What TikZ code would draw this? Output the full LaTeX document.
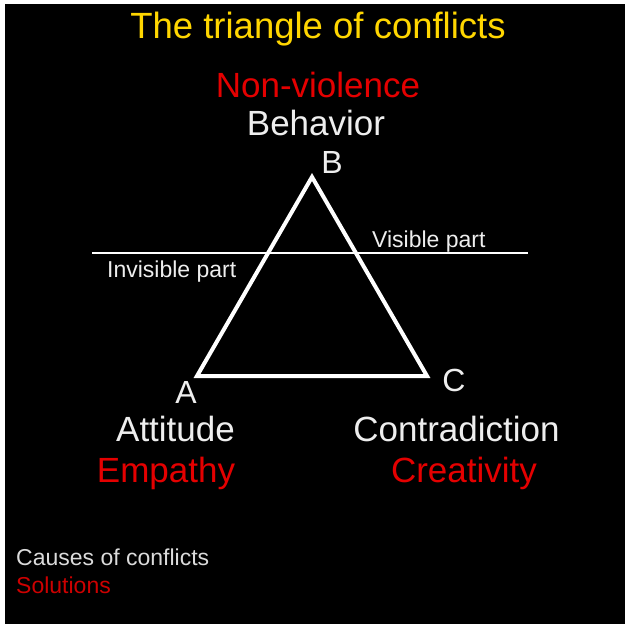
\documentclass[tikz,border=0pt]{standalone}
\usepackage{fontspec}
\setmainfont{Liberation Sans}
\usepackage{tikz}
\definecolor{titleyellow}{RGB}{255,214,0}
\definecolor{solred}{RGB}{228,0,0}
\definecolor{labelwhite}{RGB}{238,238,238}
\tikzset{
	biglabel/.style={inner sep=0pt, anchor=base, font=\fontsize{35}{40}\selectfont},
	smalllabel/.style={inner sep=0pt, anchor=base west, font=\fontsize{23}{26}\selectfont},
	cornerlabel/.style={inner sep=0pt, anchor=base, text=labelwhite, font=\fontsize{32}{36}\selectfont}
}

\begin{document}
\begin{tikzpicture}[x=1pt, y=-1pt]
			%%%%% START %%%%%
			
			\useasboundingbox (0, 0) rectangle (625, 624);
			\fill[white] (0, 0) rectangle (625, 624);
			\fill[black] (5, 4) rectangle (625, 624);
			
			\node[biglabel, text=titleyellow, font=\fontsize{36.5}{40}\selectfont] (title) at (318, 38) {The triangle of conflicts};
			
			\node[biglabel, text=solred] (nonviolence) at (318, 97) {Non-violence};
			\node[biglabel, text=labelwhite] (behavior) at (316, 135) {Behavior};
			
			\coordinate (B) at (312, 177);
			\coordinate (A) at (197, 376);
			\coordinate (C) at (427, 376);
			\draw[white, line width=4pt, line join=miter] (A) -- (B) -- (C) -- cycle;
			
			\coordinate (lineW) at (92, 252.5);
			\coordinate (lineE) at (528, 252.5);
			\draw[white, line width=2pt] (lineW) -- (lineE);
			
			\node[cornerlabel] (labB) at (332, 173) {B};
			\node[cornerlabel] (labA) at (186, 403) {A};
			\node[cornerlabel] (labC) at (454, 391) {C};
			
			\node[smalllabel, text=labelwhite] (visible) at (372, 247) {Visible part};
			\node[smalllabel, text=labelwhite] (invisible) at (107, 277) {Invisible part};
			
			\node[biglabel, text=labelwhite] (attitude) at (175.5, 441) {Attitude};
			\node[biglabel, text=solred] (empathy) at (166, 482) {Empathy};
			\node[biglabel, text=labelwhite] (contradiction) at (456.5, 441) {Contradiction};
			\node[biglabel, text=solred] (creativity) at (464, 482) {Creativity};
			
			\node[smalllabel, text=labelwhite!92!black] (causes) at (16, 565) {Causes of conflicts};
			\node[smalllabel, text=solred!90!black] (solutions) at (16, 593) {Solutions};
			
			%%%%% END %%%%%
\end{tikzpicture}
\end{document}
